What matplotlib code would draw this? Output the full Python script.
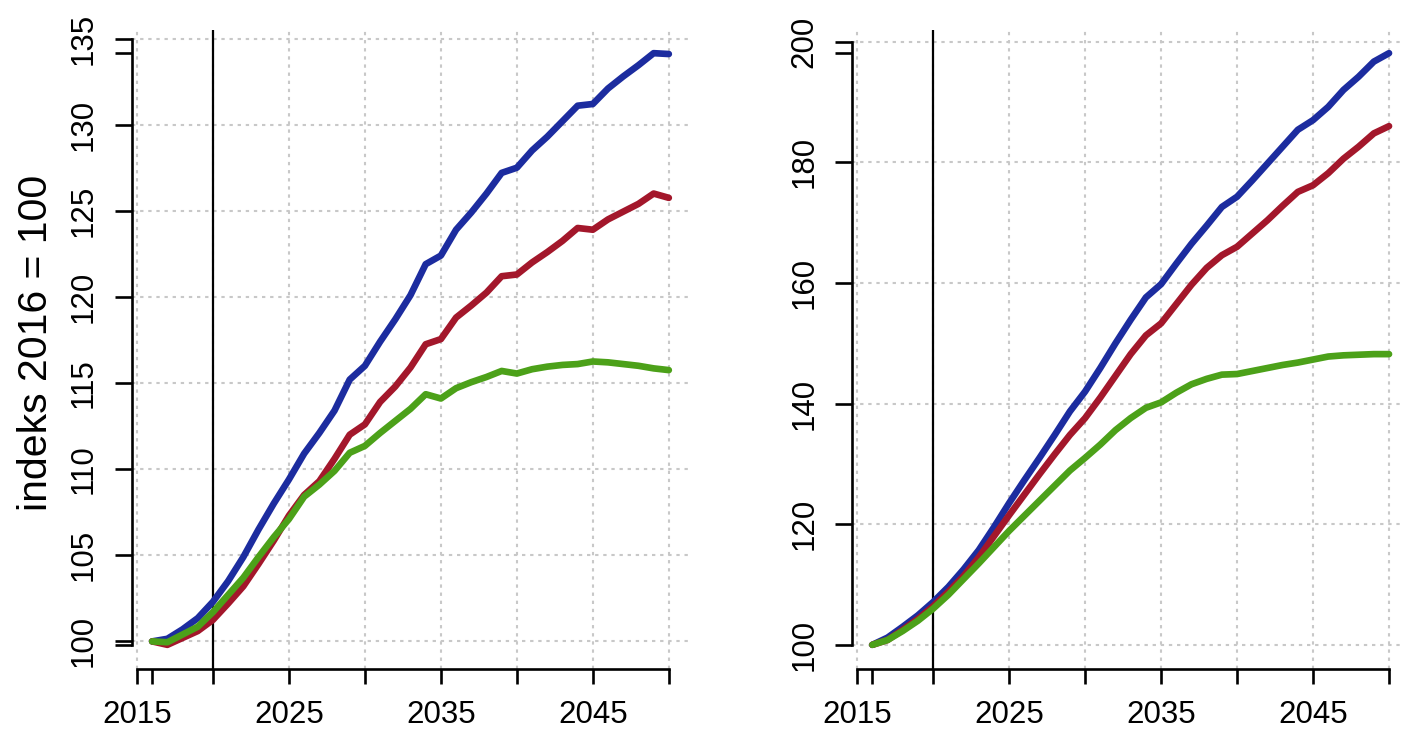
import matplotlib.pyplot as plt
import numpy as np

plt.rcParams['font.family'] = ['Liberation Sans', 'DejaVu Sans']

years = np.arange(2016, 2051)

# venstre panel
left_high = [100.0, 100.15, 100.7, 101.35, 102.3, 103.5, 104.9, 106.5, 108.0, 109.4,
             110.9, 112.1, 113.4, 115.2, 116.0, 117.4, 118.7, 120.1, 121.9, 122.4,
             123.9, 124.9, 126.0, 127.2, 127.5, 128.5, 129.3, 130.2, 131.1, 131.2,
             132.1, 132.8, 133.45, 134.15, 134.1]
left_mid = [100.0, 99.8, 100.2, 100.6, 101.25, 102.2, 103.2, 104.5, 105.85, 107.3,
            108.5, 109.3, 110.6, 112.0, 112.6, 113.9, 114.8, 115.9, 117.25, 117.55,
            118.8, 119.5, 120.25, 121.2, 121.3, 122.0, 122.6, 123.25, 124.0, 123.9,
            124.5, 124.95, 125.4, 126.0, 125.75]
left_low = [100.0, 99.95, 100.4, 100.85, 101.7, 102.7, 103.7, 104.9, 106.05, 107.1,
            108.4, 109.1, 109.9, 110.95, 111.35, 112.1, 112.8, 113.5, 114.35, 114.1,
            114.7, 115.05, 115.35, 115.7, 115.55, 115.8, 115.95, 116.05, 116.1, 116.25,
            116.2, 116.1, 116.0, 115.85, 115.75]

# hoyre panel
right_high = [100.0, 101.2, 103.0, 104.9, 107.1, 109.6, 112.5, 115.7, 119.5, 123.5,
              127.3, 131.0, 134.8, 138.7, 142.0, 145.9, 150.0, 153.9, 157.6, 159.8,
              163.2, 166.5, 169.5, 172.6, 174.3, 177.0, 179.8, 182.6, 185.4, 187.0,
              189.2, 192.0, 194.2, 196.7, 198.1]
right_mid = [100.0, 100.8, 102.5, 104.3, 106.4, 108.8, 111.4, 114.5, 118.0, 121.5,
             124.9, 128.3, 131.6, 134.8, 137.6, 141.0, 144.6, 148.2, 151.3, 153.3,
             156.5, 159.7, 162.5, 164.6, 166.0, 168.2, 170.4, 172.8, 175.1, 176.2,
             178.2, 180.6, 182.6, 184.8, 186.0]
right_low = [100.0, 100.8, 102.3, 104.0, 106.0, 108.3, 110.9, 113.5, 116.2, 118.9,
             121.4, 123.9, 126.4, 128.9, 131.0, 133.2, 135.6, 137.6, 139.3, 140.2,
             141.8, 143.2, 144.1, 144.8, 144.9, 145.4, 145.9, 146.4, 146.8, 147.3,
             147.8, 148.0, 148.1, 148.2, 148.2]

left_yticks = [100, 105, 110, 115, 120, 125, 130, 135]
right_yticks = [100, 120, 140, 160, 180, 200]
x_ticks = [2015, 2020, 2025, 2030, 2035, 2040, 2045, 2050]
x_labelled = [2015, 2025, 2035, 2045]
cutoff_year = 2020
ylabel = 'indeks 2016 = 100'

colors = ['#1C2C9F', '#A3172B', '#4CA119']

W, H = 1404, 731
fig = plt.figure(figsize=(W / 100, H / 100), dpi=100)


def panel(rect, series, yticks):
    ax = fig.add_axes(rect)
    lo = min(min(s) for s in series)
    hi = max(max(s) for s in series)
    ext = 0.04 * (hi - lo)
    ax.set_ylim(lo - ext, hi + ext)
    xext = 0.04 * (years[-1] - years[0])
    ax.set_xlim(years[0] - xext, years[-1] + xext)

    # grid i bakgrunnen
    for t in x_ticks:
        ax.axvline(t, color='#c8c8c8', lw=1.5, ls=(0, (1.6, 2.3)), zorder=0)
    for t in yticks:
        ax.axhline(t, color='#c8c8c8', lw=1.5, ls=(0, (1.6, 2.3)), zorder=0)

    for s, c in zip(series, colors):
        ax.plot(years, s, color=c, lw=4.8, solid_capstyle='round',
                solid_joinstyle='round', zorder=3)
    ax.axvline(cutoff_year, color='black', lw=1.6, zorder=2)

    for side in ['top', 'right']:
        ax.spines[side].set_visible(False)
    ax.spines['left'].set_linewidth(1.9)
    ax.spines['bottom'].set_linewidth(1.9)

    xt = sorted(set(x_ticks + [int(years[0])]))
    ax.set_xticks(xt)
    ax.set_xticklabels([str(t) if t in x_labelled else '' for t in xt])
    yt = sorted(set(yticks + [lo, hi]))
    ax.set_yticks(yt)
    ax.set_yticklabels([str(t) if t in yticks else '' for t in yt])
    ax.spines['bottom'].set_bounds(min(xt), max(xt))
    ax.spines['left'].set_bounds(min(yt), max(yt))

    ax.tick_params(axis='x', length=11, width=1.9, labelsize=22.5, pad=11.6)
    ax.tick_params(axis='y', length=12.2, width=1.9, labelsize=22.5, pad=11.2,
                   labelrotation=90)
    for lab in ax.get_yticklabels():
        lab.set_va('center')
    return ax


top_px, bottom_px = 29.5, 668.5
rect_h = (bottom_px - top_px) / H
rect_b = (H - bottom_px) / H
panel([131.5 / W, rect_b, 558 / W, rect_h], [left_high, left_mid, left_low], left_yticks)
panel([851.7 / W, rect_b, 558 / W, rect_h], [right_high, right_mid, right_low], right_yticks)

fig.text(46.6 / W, 1 - 343 / H, ylabel, fontsize=29.5, rotation=90,
         rotation_mode='anchor', ha='center', va='baseline')

fig.savefig('out.png', dpi=100)
